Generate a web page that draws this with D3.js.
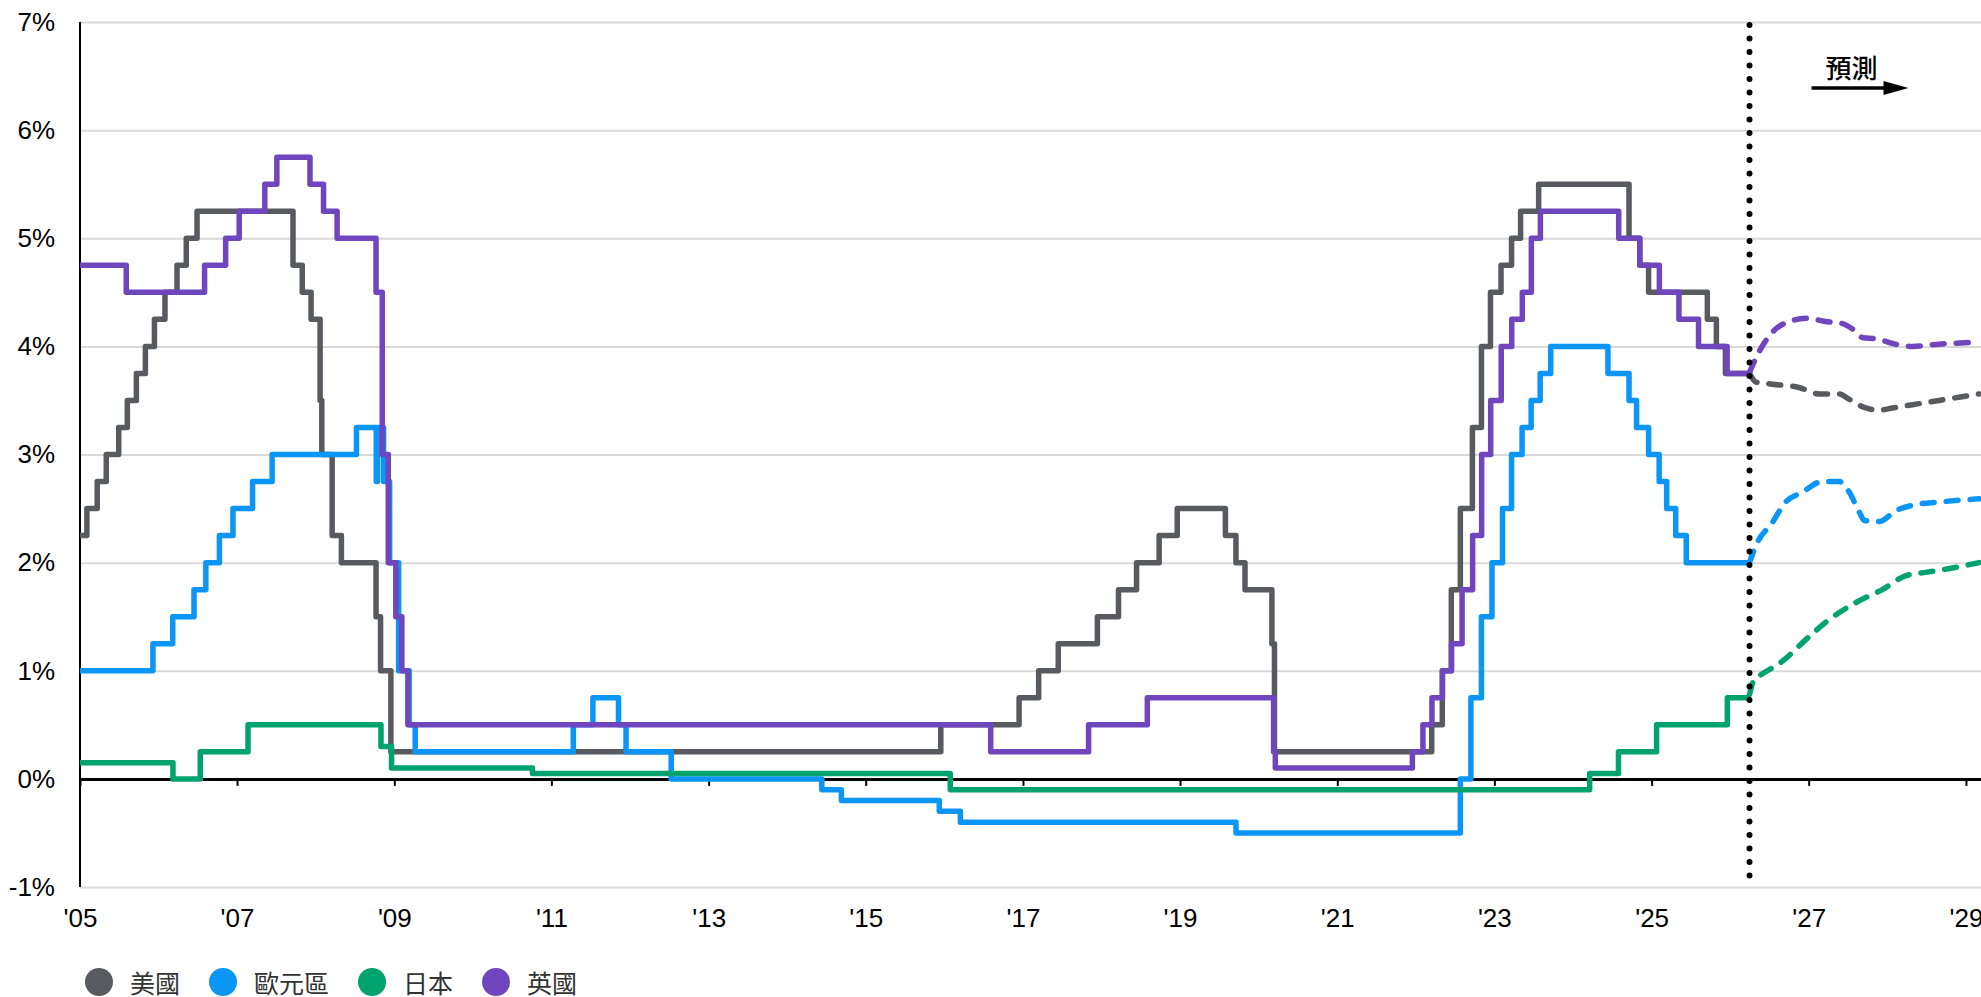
<!DOCTYPE html>
<html>
<head>
<meta charset="utf-8">
<script src="https://cdn.jsdelivr.net/npm/d3@7"></script>
<style>
  body { margin: 0; background: #fff; }
  svg { display: block; font-family: "Liberation Sans", Arial, sans-serif; }
</style>
</head>
<body>
<svg id="chart" width="1981" height="997"></svg>
<script>
// Config
var SERIES_NAMES = ['美國', '歐元區', '日本', '英國'];
var SERIES_COLORS = ['#575b5f', '#0a95f7', '#00a36e', '#6f46bd'];
var Y_TICKS = [-1, 0, 1, 2, 3, 4, 5, 6, 7];
var X_TICK_YEARS = [2005, 2007, 2009, 2011, 2013, 2015, 2017, 2019, 2021, 2023, 2025, 2027, 2029];
var FORECAST_LABEL = '預測';
var HIST_END = '2026-04-01';
var LINE_WIDTH = 5.5;

// Policy rates (step series), [date, %]
var usRates = [['2005-01-01', 2.25], ['2005-02-02', 2.5], ['2005-03-22', 2.75], ['2005-05-03', 3.0], ['2005-06-30', 3.25],
  ['2005-08-09', 3.5], ['2005-09-20', 3.75], ['2005-11-01', 4.0], ['2005-12-13', 4.25], ['2006-01-31', 4.5],
  ['2006-03-28', 4.75], ['2006-05-10', 5.0], ['2006-06-29', 5.25], ['2007-09-18', 4.75], ['2007-10-31', 4.5],
  ['2007-12-11', 4.25], ['2008-01-22', 3.5], ['2008-01-30', 3.0], ['2008-03-18', 2.25], ['2008-04-30', 2.0],
  ['2008-10-08', 1.5], ['2008-10-29', 1.0], ['2008-12-16', 0.25], ['2015-12-16', 0.5], ['2016-12-14', 0.75],
  ['2017-03-15', 1.0], ['2017-06-14', 1.25], ['2017-12-13', 1.5], ['2018-03-21', 1.75], ['2018-06-13', 2.0],
  ['2018-09-26', 2.25], ['2018-12-19', 2.5], ['2019-07-31', 2.25], ['2019-09-18', 2.0], ['2019-10-30', 1.75],
  ['2020-03-03', 1.25], ['2020-03-15', 0.25], ['2022-03-16', 0.5], ['2022-05-04', 1.0], ['2022-06-15', 1.75],
  ['2022-07-27', 2.5], ['2022-09-21', 3.25], ['2022-11-02', 4.0], ['2022-12-14', 4.5], ['2023-02-01', 4.75],
  ['2023-03-22', 5.0], ['2023-05-03', 5.25], ['2023-07-26', 5.5], ['2024-09-18', 5.0], ['2024-11-07', 4.75],
  ['2024-12-18', 4.5], ['2025-09-17', 4.25], ['2025-10-29', 4.0], ['2025-12-10', 3.75]];

var euroRates = [['2005-01-01', 1.0], ['2005-12-06', 1.25], ['2006-03-08', 1.5], ['2006-06-15', 1.75], ['2006-08-09', 2.0],
  ['2006-10-11', 2.25], ['2006-12-13', 2.5], ['2007-03-14', 2.75], ['2007-06-13', 3.0], ['2008-07-09', 3.25],
  ['2008-10-09', 2.75], ['2008-10-15', 3.25], ['2008-11-12', 2.75], ['2008-12-10', 2.0], ['2009-01-21', 1.0],
  ['2009-03-11', 0.5], ['2009-04-08', 0.25], ['2011-04-13', 0.5], ['2011-07-13', 0.75], ['2011-11-09', 0.5],
  ['2011-12-14', 0.25], ['2012-07-11', 0.0], ['2014-06-11', -0.1], ['2014-09-10', -0.2], ['2015-12-09', -0.3],
  ['2016-03-16', -0.4], ['2019-09-18', -0.5], ['2022-07-27', 0.0], ['2022-09-14', 0.75], ['2022-11-02', 1.5],
  ['2022-12-21', 2.0], ['2023-02-08', 2.5], ['2023-03-22', 3.0], ['2023-05-10', 3.25], ['2023-06-21', 3.5],
  ['2023-08-02', 3.75], ['2023-09-20', 4.0], ['2024-06-12', 3.75], ['2024-09-18', 3.5], ['2024-10-23', 3.25],
  ['2024-12-18', 3.0], ['2025-02-05', 2.75], ['2025-03-12', 2.5], ['2025-04-23', 2.25], ['2025-06-11', 2.0]];

var japanRates = [['2005-01-01', 0.15], ['2006-03-09', 0.0], ['2006-07-14', 0.25], ['2007-02-21', 0.5], ['2008-10-31', 0.3],
  ['2008-12-19', 0.1], ['2010-10-05', 0.05], ['2016-01-29', -0.1], ['2024-03-19', 0.05], ['2024-07-31', 0.25],
  ['2025-01-24', 0.5], ['2025-12-19', 0.75]];

var ukRates = [['2005-01-01', 4.75], ['2005-08-04', 4.5], ['2006-08-03', 4.75], ['2006-11-09', 5.0], ['2007-01-11', 5.25],
  ['2007-05-10', 5.5], ['2007-07-05', 5.75], ['2007-12-06', 5.5], ['2008-02-07', 5.25], ['2008-04-10', 5.0],
  ['2008-10-08', 4.5], ['2008-11-06', 3.0], ['2008-12-04', 2.0], ['2009-01-08', 1.5], ['2009-02-05', 1.0],
  ['2009-03-05', 0.5], ['2016-08-04', 0.25], ['2017-11-02', 0.5], ['2018-08-02', 0.75], ['2020-03-11', 0.25],
  ['2020-03-19', 0.1], ['2021-12-16', 0.25], ['2022-02-03', 0.5], ['2022-03-17', 0.75], ['2022-05-05', 1.0],
  ['2022-06-16', 1.25], ['2022-08-04', 1.75], ['2022-09-22', 2.25], ['2022-11-03', 3.0], ['2022-12-15', 3.5],
  ['2023-02-02', 4.0], ['2023-03-23', 4.25], ['2023-05-11', 4.5], ['2023-06-22', 5.0], ['2023-08-03', 5.25],
  ['2024-08-01', 5.0], ['2024-11-07', 4.75], ['2025-02-06', 4.5], ['2025-05-08', 4.25], ['2025-08-07', 4.0],
  ['2025-12-18', 3.75]];

// Market-implied forecasts (dashed)
var usForecast = [['2026-04-01', 3.75], ['2026-05-01', 3.67], ['2026-07-16', 3.65], ['2026-11-17', 3.62], ['2027-02-21', 3.56],
  ['2027-05-23', 3.56], ['2027-07-09', 3.51], ['2027-09-10', 3.44], ['2027-11-25', 3.41], ['2028-01-26', 3.43],
  ['2028-04-27', 3.46], ['2028-08-29', 3.50], ['2029-03-03', 3.56]];
var euroForecast = [['2026-04-01', 2.0], ['2026-05-01', 2.16], ['2026-07-16', 2.37], ['2026-09-16', 2.56], ['2026-12-01', 2.65],
  ['2027-03-07', 2.75], ['2027-05-23', 2.75], ['2027-07-09', 2.65], ['2027-08-26', 2.46], ['2027-09-17', 2.39],
  ['2027-11-25', 2.38], ['2028-02-10', 2.48], ['2028-04-27', 2.53], ['2028-08-29', 2.56], ['2029-03-03', 2.59]];
var japanForecast = [['2026-04-01', 0.78], ['2026-04-23', 0.92], ['2026-05-22', 0.96], ['2026-09-02', 1.09], ['2026-12-20', 1.29],
  ['2027-03-22', 1.45], ['2027-08-08', 1.63], ['2027-12-09', 1.75], ['2028-03-28', 1.88], ['2028-06-28', 1.91],
  ['2028-10-30', 1.95], ['2029-03-03', 2.00]];
var ukForecast = [['2026-04-01', 3.76], ['2026-05-18', 3.96], ['2026-07-16', 4.13], ['2026-10-19', 4.24], ['2026-12-20', 4.26],
  ['2027-03-22', 4.23], ['2027-06-07', 4.21], ['2027-07-24', 4.16], ['2027-09-10', 4.08], ['2027-11-10', 4.07],
  ['2028-02-10', 4.02], ['2028-04-27', 4.00], ['2028-08-29', 4.02], ['2029-03-03', 4.04]];

var HISTORY = [usRates, euroRates, japanRates, ukRates];
var FORECASTS = [usForecast, euroForecast, japanForecast, ukForecast];

// Layout
var width = 1981, height = 997;
var margin = {top: 22, right: 0, bottom: 110, left: 80};
var parse = d3.timeParse('%Y-%m-%d');

var svg = d3.select('#chart');

var xScale = d3.scaleTime()
    .domain([parse('2005-01-01'), parse('2029-03-12')])
    .range([margin.left, width - margin.right]);

var yScale = d3.scaleLinear()
    .domain([-1, 7])
    .range([height - margin.bottom, margin.top]);

// Gridlines + y labels
var yAxis = svg.append('g')
    .attr('transform', 'translate(' + margin.left + ',0)')
    .call(d3.axisLeft(yScale)
      .tickValues(Y_TICKS)
      .tickSize(-(width - margin.left - margin.right))
      .tickPadding(25)
      .tickFormat(function(d) { return d + '%'; }));
yAxis.select('.domain').remove();
yAxis.selectAll('.tick line').attr('stroke', '#d9d9d9').attr('stroke-width', 2);
yAxis.selectAll('.tick text')
    .attr('fill', '#000')
    .style('font-size', '26px')
    .style('font-family', '"Liberation Sans", Arial, sans-serif');

// Zero line with ticks
var xAxis = svg.append('g')
    .attr('transform', 'translate(0,' + yScale(0) + ')')
    .call(d3.axisBottom(xScale)
      .tickValues(X_TICK_YEARS.map(function(y) { return new Date(y, 0, 1); }))
      .tickSizeInner(7)
      .tickSizeOuter(0)
      .tickFormat(''));
xAxis.select('.domain').attr('stroke', '#000').attr('stroke-width', 3);
xAxis.selectAll('.tick line').attr('stroke', '#000').attr('stroke-width', 2);

// Year labels along the bottom
var xLabels = svg.append('g')
    .attr('transform', 'translate(0,' + yScale(-1) + ')')
    .call(d3.axisBottom(xScale)
      .tickValues(X_TICK_YEARS.map(function(y) { return new Date(y, 0, 1); }))
      .tickSize(0)
      .tickPadding(22)
      .tickFormat(function(d) { return "'" + d3.timeFormat('%y')(d); }));
xLabels.select('.domain').remove();
xLabels.selectAll('.tick text')
    .attr('fill', '#000')
    .style('font-size', '26px')
    .style('font-family', '"Liberation Sans", Arial, sans-serif');

// Y axis line
svg.append('line')
    .attr('x1', margin.left).attr('x2', margin.left)
    .attr('y1', yScale(7)).attr('y2', yScale(-1))
    .attr('stroke', '#000')
    .attr('stroke-width', 2);

// Lines
var stepLine = d3.line()
    .x(function(d) { return xScale(parse(d[0])); })
    .y(function(d) { return yScale(d[1]); })
    .curve(d3.curveStepAfter);

var smoothLine = d3.line()
    .x(function(d) { return xScale(parse(d[0])); })
    .y(function(d) { return yScale(d[1]); })
    .curve(d3.curveMonotoneX);

HISTORY.forEach(function(series, i) {
  // extend the last step to the end of the history
  var pts = series.concat([[HIST_END, series[series.length - 1][1]]]);
  svg.append('path')
      .datum(pts)
      .attr('fill', 'none')
      .attr('stroke', SERIES_COLORS[i])
      .attr('stroke-width', LINE_WIDTH)
      .attr('stroke-linejoin', 'round')
      .attr('d', stepLine);
});

FORECASTS.forEach(function(series, i) {
  svg.append('path')
      .datum(series)
      .attr('fill', 'none')
      .attr('stroke', SERIES_COLORS[i])
      .attr('stroke-width', LINE_WIDTH)
      .attr('stroke-linecap', 'round')
      .attr('stroke-dasharray', '12 12')
      .attr('d', smoothLine);
});

// Forecast divider
var xSplit = xScale(parse(HIST_END));
svg.append('line')
    .attr('x1', xSplit).attr('x2', xSplit)
    .attr('y1', yScale(7) + 3).attr('y2', yScale(-1) - 5)
    .attr('stroke', '#000')
    .attr('stroke-width', 6)
    .attr('stroke-linecap', 'round')
    .attr('stroke-dasharray', '0 13.5');

// Forecast label and arrow
svg.append('text')
    .attr('x', xSplit + 102)
    .attr('y', 66)
    .attr('text-anchor', 'middle')
    .attr('dominant-baseline', 'central')
    .style('font-family', '"Noto Sans CJK TC", sans-serif')
    .style('font-size', '26px')
    .style('font-weight', '500')
    .attr('fill', '#000')
    .text(FORECAST_LABEL);

svg.append('line')
    .attr('x1', xSplit + 62).attr('x2', xSplit + 138)
    .attr('y1', 88).attr('y2', 88)
    .attr('stroke', '#000')
    .attr('stroke-width', 3.5);
svg.append('path')
    .attr('d', d3.line()([[xSplit + 134, 81], [xSplit + 159, 88], [xSplit + 134, 95]]))
    .attr('fill', '#000');

// Legend
var legend = svg.append('g').attr('transform', 'translate(0,982)');
var lx = 85;
SERIES_NAMES.forEach(function(name, i) {
  legend.append('circle')
      .attr('cx', lx + 14).attr('cy', 0).attr('r', 14)
      .attr('fill', SERIES_COLORS[i]);
  var t = legend.append('text')
      .attr('x', lx + 45).attr('y', 0)
      .attr('dominant-baseline', 'central')
      .style('font-family', '"Noto Sans CJK TC", sans-serif')
      .style('font-size', '25px')
      .attr('fill', '#333')
      .text(name);
  lx = lx + 45 + t.node().getComputedTextLength() + 29;
});
</script>
</body>
</html>
